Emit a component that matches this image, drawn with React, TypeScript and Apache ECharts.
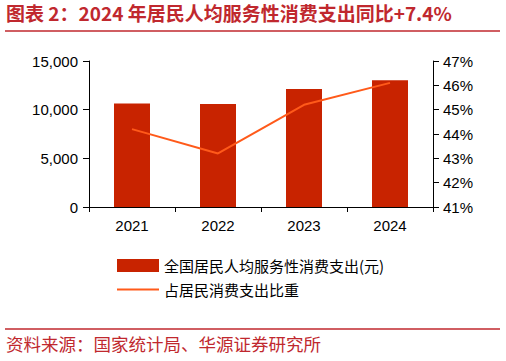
import React, { useEffect, useRef } from "react";
import * as echarts from "echarts";

const categories = ["2021", "2022", "2023", "2024"];
const spending = [10645, 10590, 12114, 13016];
const share = [44.2, 43.2, 45.2, 46.1];
const barName = "全国居民人均服务性消费支出(元)";
const lineName = "占居民消费支出比重";
const titleText = "图表 2：2024 年居民人均服务性消费支出同比+7.4%";
const sourceText = "资料来源：国家统计局、华源证券研究所";

export default function App() {
  const ref = useRef<HTMLDivElement>(null);
  useEffect(() => {
    const chart = echarts.init(ref.current!, null, { renderer: "svg" });
    const red = "#C0282E";
    const font = "Liberation Sans, Arial, Noto Sans CJK SC, sans-serif";
    const cjk = "'Noto Sans CJK SC', sans-serif";
    chart.setOption({
      animation: false,
      backgroundColor: "#ffffff",
      textStyle: { fontFamily: font },
      graphic: [
        {
          type: "text",
          left: 6,
          top: 3,
          style: {
            text: titleText,
            fill: red,
            font: "bold 19px 'Noto Sans CJK SC', sans-serif",
          },
        },
        {
          type: "line",
          shape: { x1: 5, y1: 31, x2: 500, y2: 31 },
          style: { stroke: red, lineWidth: 1.5 },
        },
        {
          type: "line",
          shape: { x1: 5, y1: 329, x2: 500, y2: 329 },
          style: { stroke: red, lineWidth: 1.5 },
        },
        {
          type: "text",
          left: 6,
          top: 335,
          style: {
            text: sourceText,
            fill: red,
            font: "17.5px 'Noto Sans CJK SC', sans-serif",
          },
        },
      ],
      legend: [
        {
          left: 117,
          top: 258,
          padding: 0,
          itemWidth: 42,
          itemHeight: 13,
          itemGap: 4,
          textStyle: { fontSize: 15, color: "#000", fontFamily: cjk },
          data: [{ name: barName, icon: "rect" }],
        },
        {
          left: 117,
          top: 282,
          padding: 0,
          itemWidth: 42,
          itemHeight: 2,
          itemGap: 4,
          textStyle: { fontSize: 15, color: "#000", fontFamily: cjk },
          data: [{ name: lineName, icon: "rect" }],
        },
      ],
      grid: { left: 89, right: 73, top: 61, bottom: 154, containLabel: false },
      xAxis: {
        type: "category",
        data: categories,
        axisLine: { lineStyle: { color: "#000", width: 1 } },
        axisTick: { show: true, length: 5, lineStyle: { color: "#000" } },
        axisLabel: { color: "#000", fontSize: 15, margin: 11, fontFamily: font },
      },
      yAxis: [
        {
          type: "value",
          min: 0,
          max: 15000,
          interval: 5000,
          splitLine: { show: false },
          axisLine: { show: true, lineStyle: { color: "#000" } },
          axisTick: { show: true, length: 6, lineStyle: { color: "#000" } },
          axisLabel: {
            color: "#000",
            fontSize: 15,
            margin: 11,
            fontFamily: font,
            formatter: (v: number) => v.toLocaleString("en-US"),
          },
        },
        {
          type: "value",
          min: 41,
          max: 47,
          interval: 1,
          position: "right",
          splitLine: { show: false },
          axisLine: { show: true, lineStyle: { color: "#000" } },
          axisTick: { show: true, length: 6, lineStyle: { color: "#000" } },
          axisLabel: {
            color: "#000",
            fontSize: 15,
            margin: 10,
            fontFamily: font,
            formatter: (v: number) => v + "%",
          },
        },
      ],
      series: [
        {
          name: barName,
          type: "bar",
          data: spending,
          barWidth: 36,
          itemStyle: { color: "#C82300" },
        },
        {
          name: lineName,
          type: "line",
          yAxisIndex: 1,
          data: share,
          symbol: "none",
          lineStyle: { color: "#FF5A1A", width: 2 },
          itemStyle: { color: "#FF5A1A" },
        },
      ],
    });
    return () => chart.dispose();
  }, []);
  return <div ref={ref} style={{ width: 506, height: 361, position: "absolute", left: 0, top: 0 }} />;
}
